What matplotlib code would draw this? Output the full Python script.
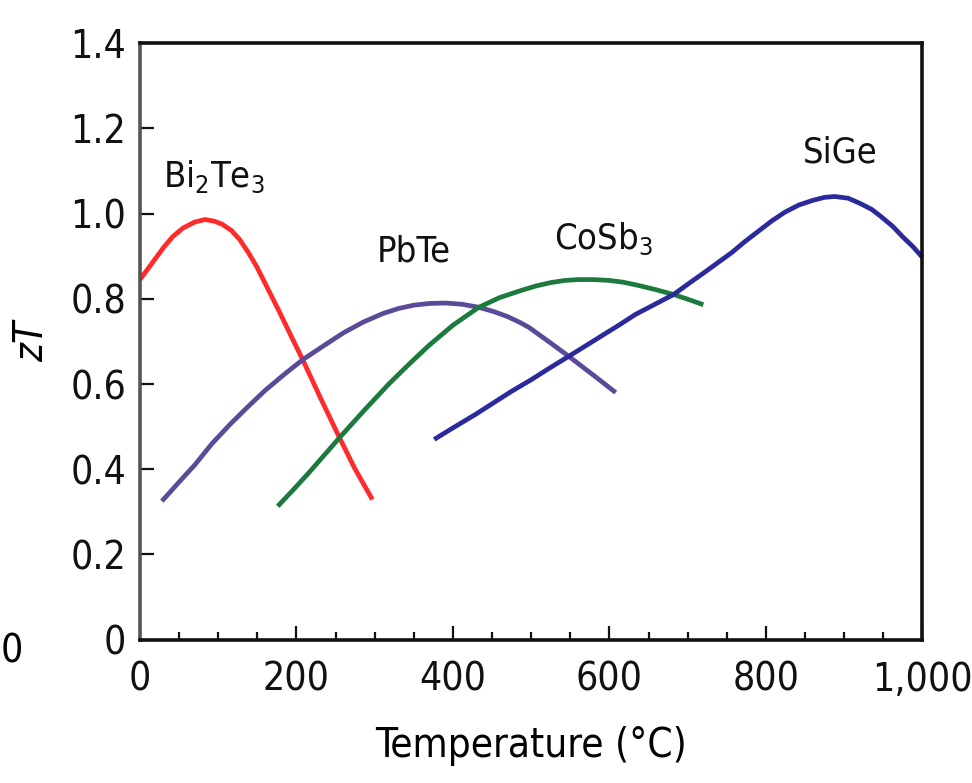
import matplotlib
matplotlib.use('Agg')
import matplotlib.pyplot as plt
from matplotlib.ticker import MultipleLocator, FuncFormatter

plt.rcParams['font.family'] = ['DejaVu Sans']
plt.rcParams['font.stretch'] = 'condensed'
plt.rcParams['mathtext.fontset'] = 'custom'
plt.rcParams['mathtext.rm'] = 'DejaVu Sans'
plt.rcParams['mathtext.it'] = 'DejaVu Sans:italic'

# values (temperature in C, zT)
bi2te3_t = [0, 10, 20, 30, 42, 55, 70, 83, 95, 105, 117, 127, 138, 149, 163, 178, 193, 208, 230, 255, 275, 297]
bi2te3_zt = [0.845, 0.87, 0.895, 0.92, 0.946, 0.966, 0.98, 0.986, 0.982, 0.975, 0.96, 0.94, 0.91, 0.876,
             0.825, 0.77, 0.713, 0.657, 0.57, 0.474, 0.40, 0.329]

pbte_t = [28, 50, 70, 92, 115, 137, 160, 184, 208, 235, 260, 285, 310, 330, 350, 370, 391, 412, 433,
          452, 470, 485, 497, 522, 548, 580, 608]
pbte_zt = [0.325, 0.37, 0.41, 0.46, 0.505, 0.545, 0.585, 0.622, 0.657, 0.69, 0.72, 0.745, 0.765, 0.777,
           0.785, 0.789, 0.79, 0.787, 0.78, 0.77, 0.758, 0.745, 0.733, 0.70, 0.665, 0.62, 0.58]

cosb3_t = [176, 195, 215, 235, 255, 285, 318, 343, 369, 400, 433, 460, 488, 506, 525, 543, 560, 580,
           600, 617, 633, 658, 682, 700, 720]
cosb3_zt = [0.313, 0.35, 0.39, 0.432, 0.474, 0.535, 0.60, 0.645, 0.69, 0.738, 0.78, 0.803, 0.82, 0.83,
            0.838, 0.843, 0.845, 0.845, 0.843, 0.839, 0.833, 0.822, 0.81, 0.799, 0.786]

sige_t = [376, 400, 430, 452, 475, 500, 524, 548, 570, 590, 612, 633, 658, 682, 700, 720, 738, 756,
          773, 790, 807, 824, 842, 860, 875, 888, 905, 920, 935, 947, 962, 975, 988, 1000]
sige_zt = [0.47, 0.497, 0.53, 0.556, 0.583, 0.61, 0.638, 0.665, 0.69, 0.713, 0.738, 0.763, 0.787, 0.81,
           0.834, 0.86, 0.884, 0.908, 0.934, 0.958, 0.982, 1.003, 1.02, 1.031, 1.038, 1.04, 1.036, 1.024,
           1.01, 0.993, 0.97, 0.945, 0.922, 0.897]

labels = ['Bi$_2$Te$_3$', 'PbTe', 'CoSb$_3$', 'SiGe']
label_pos = [(29, 1.085), (350, 0.91), (592, 0.94), (895, 1.143)]
colors = ['#ff2b2b', '#5a4a98', '#1d7a3e', '#2b2a9c']

fig = plt.figure(figsize=(9.72, 7.83), dpi=100)
ax = fig.add_axes([0.144, 0.183, 0.805, 0.762])

series = [(bi2te3_t, bi2te3_zt), (pbte_t, pbte_zt), (cosb3_t, cosb3_zt), (sige_t, sige_zt)]
for (t, zt), c in zip(series, colors):
    ax.plot(t, zt, color=c, lw=3.4, solid_capstyle='butt', solid_joinstyle='round', clip_on=False)

for txt, (x, y) in zip(labels, label_pos):
    ha = 'left' if txt.startswith('Bi') else 'center'
    ax.text(x, y, txt, fontsize=26, ha=ha, va='center', color='#111111')

ax.set_xlim(0, 1000)
ax.set_ylim(0, 1.4)
ax.xaxis.set_major_locator(MultipleLocator(200))
ax.xaxis.set_minor_locator(MultipleLocator(50))
ax.yaxis.set_major_locator(MultipleLocator(0.2))
ax.xaxis.set_major_formatter(FuncFormatter(lambda v, p: '{:,.0f}'.format(v)))
ax.yaxis.set_major_formatter(FuncFormatter(lambda v, p: '0' if abs(v) < 1e-9 else '{:.1f}'.format(v)))

ax.tick_params(which='both', direction='in', top=False, right=False, labelsize=28, width=1.6, colors='#111111')
ax.tick_params(which='major', length=10, pad=10)
ax.tick_params(which='minor', length=6)
ax.tick_params(axis='x', which='major', pad=15)

for side, sp in ax.spines.items():
    sp.set_linewidth(2.6)
    sp.set_color('#111111')
ax.spines['left'].set_color('#555555')

ax.set_xlabel('Temperature (°C)', fontsize=29, labelpad=20)
ax.set_ylabel('zT', fontsize=29, style='italic', labelpad=14)

# stray digit at the left edge of the picture
fig.text(0.001, 0.168, '0', fontsize=28, ha='left', va='center')

fig.savefig('out.png', dpi=100)
